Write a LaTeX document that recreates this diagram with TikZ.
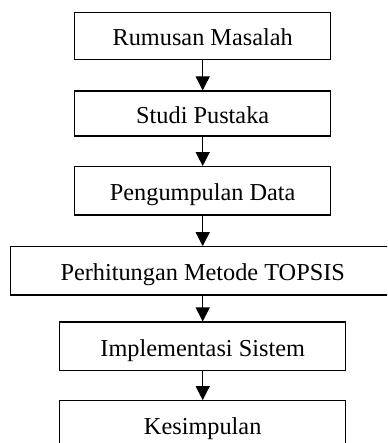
\documentclass[tikz,border=0pt]{standalone}
\usepackage{fontspec}
\setmainfont{Liberation Serif}
\usetikzlibrary{arrows.meta}

\begin{document}
\begin{tikzpicture}[x=1pt, y=-1pt]
	    \tikzset{>={Triangle[width=14pt,length=14pt]}}
	    \tikzset{box/.style={draw, line width=1.2pt, inner sep=0pt,
	        minimum width=256pt, minimum height=47pt,
	        text height=20pt, text depth=0pt,
	        font=\fontsize{24.3}{28}\selectfont}}
	    \clip (0,0) rectangle (387,443);
	    \node (1) at (202.7,35.8) [box] {Rumusan Masalah};
	    \node (2) at (202.7,113.5) [box, minimum height=45pt] {Studi Pustaka};
	    \node (3) at (202.7,190.8) [box, minimum height=48.3pt] {Pengumpulan Data};
	    \node (4) at (202.7,270.9) [box, minimum width=384pt, minimum height=48.3pt] {Perhitungan Metode TOPSIS};
	    \node (5) at (202.7,346.4) [box, minimum width=286pt, minimum height=48.7pt] {Implementasi Sistem};
	    \node (6) at (202.7,424.7) [box, minimum width=286pt, minimum height=48pt] {Kesimpulan};
	    \foreach \a/\b in {1/2,2/3,3/4,4/5,5/6}
	        \draw [->, line width=1.2pt] (\a) -- (\b);
	    % \draw [->] (1.south) -- (2.north);
\end{tikzpicture}
\end{document}
